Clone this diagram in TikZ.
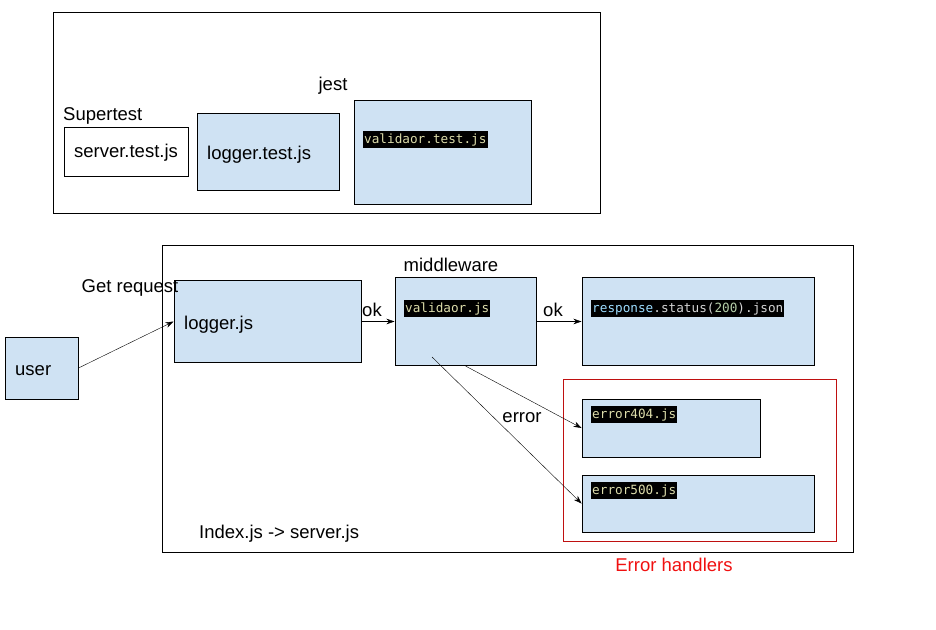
\documentclass[tikz,border=0pt]{standalone}
\usepackage{fontspec}
\setmainfont{Liberation Sans}
\newfontfamily\codefont{DejaVu Sans Mono}
\usetikzlibrary{calc,arrows.meta}
\definecolor{boxblue}{HTML}{CFE2F3}
\definecolor{handlerred}{HTML}{BF1010}
\definecolor{labelred}{HTML}{F01010}
\definecolor{codeyellow}{HTML}{DCDCAA}
\definecolor{codeblue}{HTML}{9CDCFE}
\definecolor{codegreen}{HTML}{B5CEA8}
\definecolor{codegray}{HTML}{D4D4D4}

\begin{document}
\begin{tikzpicture}[x=1pt,y=-1pt,
		box/.style={draw,line width=1pt,inner sep=0pt},
		filebox/.style={box,fill=boxblue},
		txt/.style={font=\fontsize{18.5}{22}\selectfont,inner sep=0pt},
		code/.style={fill=black,text=codeyellow,font=\codefont\fontsize{12.7}{15}\selectfont,inner xsep=1pt,inner ysep=2.3pt},
		>={Stealth[length=8pt,width=5.5pt]}]
		\useasboundingbox (0,0) rectangle (936,629);
		
		% tests
		\node[box,minimum width=547pt,minimum height=201pt] (tests) at (326.5,112.5) {};
		\node[box,fill=white,minimum width=124pt,minimum height=49pt] (servertest) at (126,151.5) {};
		\node[txt] at ($(servertest)+(0,1.5)$) {server.test.js};
		\node[txt,anchor=west] (supertest) at (63,115.5) {Supertest};
		\node[filebox,minimum width=142pt,minimum height=77pt] (loggertest) at (268,151.5) {};
		\node[txt,anchor=west] at (207,154.5) {logger.test.js};
		\node[txt] (jest) at (333,85.5) {jest};
		\node[filebox,minimum width=177pt,minimum height=104pt] (valtest) at (442.5,152) {};
		\node[code,anchor=west] at (363,139.5) {validaor.test.js};
		
		% server
		\node[box,minimum width=691pt,minimum height=307pt] (server) at (507.5,398.5) {};
		\node[txt,anchor=west] (index) at (199,533.5) {Index.js -> server.js};
		\node[filebox,minimum width=73pt,minimum height=62pt] (user) at (41.5,368) {};
		\node[txt,anchor=west] at (15,370.5) {user};
		\node[filebox,minimum width=187pt,minimum height=82pt] (logger) at (267.5,321.5) {};
		\node[txt,anchor=west] at (184,324.5) {logger.js};
		\node[txt] (getreq) at (130,287.5) {Get request};
		\node[filebox,minimum width=141pt,minimum height=88pt] (val) at (465.5,321.5) {};
		\node[code,anchor=west] at (404,308.5) {validaor.js};
		\node[txt] (middleware) at (451,264.5) {middleware};
		\node[filebox,minimum width=232pt,minimum height=88pt] (resp) at (698,321.5) {};
		\node[code,anchor=west] at (591,308.5) {\textcolor{codeblue}{response}\textcolor{codegray}{.status(}\textcolor{codegreen}{200}\textcolor{codegray}{).json}};
		
		% error handlers
		\node[box,draw=handlerred,minimum width=273pt,minimum height=162pt] (handlers) at (699.5,460) {};
		\node[txt,text=labelred] (handlerlabel) at (674,564.5) {Error handlers};
		\node[filebox,minimum width=178pt,minimum height=58pt] (e404) at (671,428) {};
		\node[code,anchor=west] at (591,414.5) {error404.js};
		\node[filebox,minimum width=232pt,minimum height=57pt] (e500) at (698,503.5) {};
		\node[code,anchor=west] at (591,490.5) {error500.js};
		
		\draw[->](user.east) -- (logger.west);
		\draw[->](logger.east) -- (val.west);
		\node[txt] (ok1) at (372,309.5) {ok};
		\draw[->](val.east) -- (resp.west);
		\node[txt] (ok2) at (553,309.5) {ok};
		\coordinate (valtap) at (432,357);
		\draw[->](val.south) -- (e404.west);
		\draw[->](valtap) -- (e500.west);
		\node[txt] (error) at (522,417.5) {error};
	\end{tikzpicture}
\end{document}
